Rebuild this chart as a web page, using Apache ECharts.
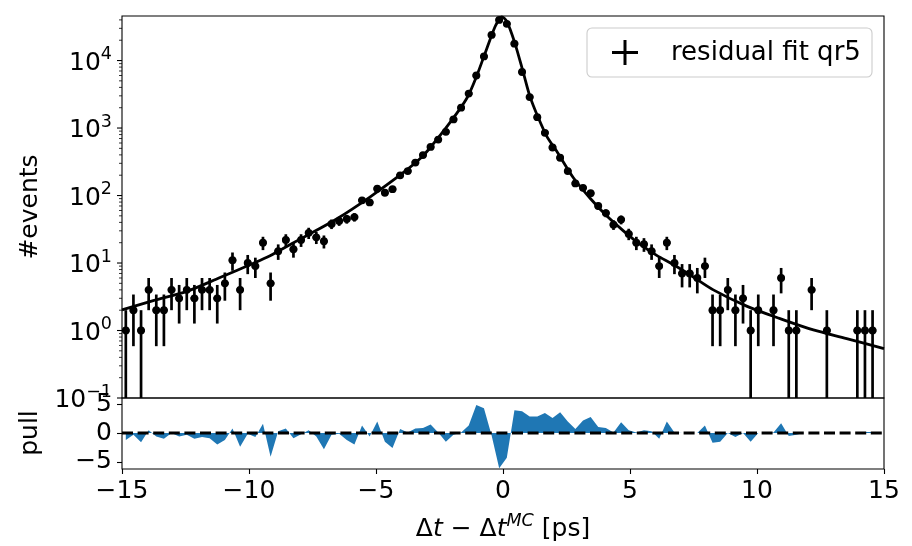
<!DOCTYPE html>
<html><head><meta charset="utf-8">
<script src="https://cdn.jsdelivr.net/npm/echarts@6/dist/echarts.min.js"></script>
<style>html,body{margin:0;padding:0;background:#fff}#c{width:912px;height:546px}</style>
</head><body><div id="c"></div>
<script>
// ---- data ----
const binHalfWidth = 0.15;
const binCenters = Array.from({length: 100}, (_, i) => +(-14.85 + 0.3 * i).toFixed(2));
const counts = [1, 2, 1, 4, 2, 2, 4, 3, 4, 3,
  4, 4, 3, 5, 11, 4, 10, 9, 20, 5,
  15, 22, 16, 22, 28, 24, 21, 38, 42, 45,
  48, 85, 79, 126, 110, 124, 199, 230, 308, 398,
  525, 675, 880, 1340, 2000, 3240, 6000, 11500, 24000, 40000,
  35000, 17800, 6760, 2880, 1450, 850, 515, 363, 230, 151,
  130, 108, 70, 55, 37, 44, 27, 20, 19, 15,
  9, 20, 10, 7, 7, 6, 9, 2, 2, 4,
  2, 3, 1, 2, null, 2, 6, 1, 1, null,
  4, null, 1, null, null, null, 1, 1, 1, null];
const pulls = [-1.2, -0.3, -1.6, 0.5, -0.6, -1.0, 0.0, -0.6, -0.3, -1.0,
  -0.7, -0.9, -2.0, -1.2, 0.8, -2.4, -0.1, -0.7, 1.6, -4.1,
  0.3, 0.8, -0.9, -0.2, 0.5, -0.6, -2.8, -0.3, -0.1, -1.2,
  -2.0, 1.3, -0.6, 2.0, -1.5, -2.6, 0.7, 0.1, 0.8, 0.9,
  1.5, 0.1, -1.5, -0.3, 0.1, 1.3, 4.9, 4.3, -0.4, -6.1,
  -4.3, 3.95, 3.8, 2.9, 2.9, 3.5, 2.6, 3.6, 2.0, 0.7,
  2.2, 2.8, 1.05, 0.9, 0.1, 1.9, 0.5, 0.1, 0.5, 0.3,
  -1.0, 2.0, 0.1, 0.0, 0.0, 0.0, 1.3, -1.7, -1.5, 0.0,
  -0.7, 0.0, -1.5, 0.0, 0.0, 0.1, 1.7, -0.5, -0.3, 0.0,
  0.0, 0.0, 0.0, 0.0, 0.0, 0.0, 0.0, 0.2, 0.2, 0.0];
const fitX = [-15, -13.77, -12.45, -11.14, -9.83, -9.17, -8.78, -7.86, -6.55, -5.24,
  -3.93, -3.27, -2.87, -2.09, -1.43, -1.04, -0.64, -0.31, -0.12, -0.05,
  0.15, 0.47, 0.80, 1.06, 1.39, 1.72, 2.11, 2.77, 3.43, 4.08,
  4.74, 5.39, 6.05, 6.70, 7.36, 8.28, 9.59, 10.91, 12.22, 13.53, 15];
const fitY = [2.02, 2.77, 3.8, 6.1, 9.9, 12.8, 15.5, 24, 45, 95,
  218, 350, 510, 1200, 2740, 5860, 15000, 32000, 42500, 44500,
  38000, 18000, 6600, 2950, 1420, 760, 455, 183, 91, 50,
  30, 19, 13, 9.5, 6.7, 4.0, 2.3, 1.5, 1.02, 0.76, 0.54];
const xTicks = [-15, -10, -5, 0, 5, 10, 15];
const yMajorTicks = [0.1, 1, 10, 100, 1000, 10000];
const pullTicks = [-5, 0, 5];
const legendLabel = 'residual fit qr5';
const yLabelTop = '#events';
const yLabelBottom = 'pull';

// ---- build ----
const FONT = 'DejaVu Sans';
const FS = 25;
const yMin = 0.1, yMax = 45700;
const yMinorTicks = [];
for (let e = -1; e <= 4; e++) for (let m = 2; m <= 9; m++) { const v = m * Math.pow(10, e); if (v < yMax) yMinorTicks.push(v); }
const tickData = yMajorTicks.map(v => [0, v, 5]).concat(yMinorTicks.map(v => [0, v, 3]));

const errData = [];
counts.forEach((n, i) => {
  if (n == null) return;
  const s = Math.sqrt(n);
  errData.push([binCenters[i], n, Math.max(n - s, yMin), n + s]);
});
const fitData = fitX.map((x, i) => [x, fitY[i]]);
const pullData = binCenters.map((x, i) => [x, pulls[i]]);
const minus = v => v < 0 ? '\u2212' + Math.abs(v) : '' + v;

const chart = echarts.init(document.getElementById('c'), null, {renderer: 'canvas'});
const option = {
  animation: false,
  backgroundColor: '#fff',
  textStyle: {fontFamily: FONT, color: '#000'},
  grid: [
    {left: 122, top: 16, width: 762, height: 382, show: true, borderColor: '#000', borderWidth: 1.1, backgroundColor: 'transparent', outerBoundsMode: 'none'},
    {left: 122, top: 398, width: 762, height: 71, show: true, borderColor: '#000', borderWidth: 1.1, backgroundColor: 'transparent', outerBoundsMode: 'none'}
  ],
  xAxis: [
    {gridIndex: 0, type: 'value', min: -15, max: 15, interval: 5, position: 'bottom',
      axisLine: {show: false, onZero: false}, axisTick: {show: false}, axisLabel: {show: false}, splitLine: {show: false}},
    {gridIndex: 1, type: 'value', min: -15, max: 15, interval: 5, position: 'bottom',
      axisLine: {show: false, onZero: false},
      axisTick: {show: true, inside: false, length: 5, lineStyle: {color: '#000', width: 1.1}},
      axisLabel: {fontSize: FS, fontFamily: FONT, color: '#000', margin: 10, formatter: minus},
      splitLine: {show: false}}
  ],
  yAxis: [
    {gridIndex: 0, type: 'log', logBase: 10, min: yMin, max: yMax, position: 'left',
      axisLine: {show: false, onZero: false}, axisTick: {show: false}, splitLine: {show: false}, minorTick: {show: false}, minorSplitLine: {show: false},
      axisLabel: {margin: 10, fontFamily: FONT, color: '#000',
        formatter: function (v) {
          const e = Math.log10(v), r = Math.round(e);
          if (Math.abs(e - r) > 1e-6) return '';
          return '{b|10}{s|' + minus(r) + '}';
        },
        rich: {
          b: {fontSize: FS, fontFamily: FONT, color: '#000', lineHeight: 30, verticalAlign: 'bottom'},
          s: {fontSize: 17.5, fontFamily: FONT, color: '#000', lineHeight: 13, verticalAlign: 'top'}
        }}},
    {gridIndex: 1, type: 'value', min: -6.25, max: 6.1, position: 'left',
      axisLine: {show: false, onZero: false},
      axisTick: {show: true, inside: false, length: 5, lineStyle: {color: '#000', width: 1.1}, customValues: pullTicks},
      axisLabel: {fontSize: FS, fontFamily: FONT, color: '#000', margin: 10, customValues: pullTicks, formatter: minus},
      splitLine: {show: false}}
  ],
  series: [
    {type: 'custom', name: 'yticks', xAxisIndex: 0, yAxisIndex: 0, clip: false, silent: true,
      data: tickData, encode: {x: 0, y: 1},
      renderItem: function (params, api) {
        const p = api.coord([0, api.value(1)]);
        const x0 = params.coordSys.x;
        const len = api.value(2);
        return {type: 'line', shape: {x1: x0 - len, y1: p[1], x2: x0, y2: p[1]},
          style: {stroke: '#000', lineWidth: len > 4 ? 1.1 : 0.8}};
      }},
    {type: 'custom', name: legendLabel, xAxisIndex: 0, yAxisIndex: 0, clip: true,
      data: errData, encode: {x: 0, y: [1, 2, 3]},
      renderItem: function (params, api) {
        const x = api.value(0), y = api.value(1), lo = api.value(2), hi = api.value(3);
        const c = api.coord([x, y]), a = api.coord([x, lo]), b = api.coord([x, hi]);
        const l = api.coord([x - binHalfWidth, y]), r = api.coord([x + binHalfWidth, y]);
        return {type: 'group', children: [
          {type: 'line', shape: {x1: a[0], y1: a[1], x2: b[0], y2: b[1]}, style: {stroke: '#000', lineWidth: 2.7}},
          {type: 'line', shape: {x1: l[0], y1: l[1], x2: r[0], y2: r[1]}, style: {stroke: '#000', lineWidth: 2.7}},
          {type: 'circle', shape: {cx: c[0], cy: c[1], r: 3.9}, style: {fill: '#000'}}
        ]};
      }},
    {type: 'line', name: 'fit', xAxisIndex: 0, yAxisIndex: 0, data: fitData, showSymbol: false, smooth: 0.3,
      lineStyle: {color: '#000', width: 2.8}, z: 3},
    {type: 'line', name: 'pull', xAxisIndex: 1, yAxisIndex: 1, data: pullData, showSymbol: false, smooth: false,
      lineStyle: {width: 0, color: '#1f77b4'}, areaStyle: {color: '#1f77b4', opacity: 1, origin: 0}},
    {type: 'line', name: 'zero', xAxisIndex: 1, yAxisIndex: 1, data: [[-15, 0], [15, 0]], showSymbol: false,
      lineStyle: {color: '#000', width: 3, type: [11, 4.6]}, z: 4}
  ],
  graphic: [
    {type: 'text', x: 30, y: 207, rotation: Math.PI / 2,
      style: {text: yLabelTop, fontSize: FS, fontFamily: FONT, fill: '#000', align: 'center', verticalAlign: 'middle'}},
    {type: 'text', x: 30, y: 433, rotation: Math.PI / 2,
      style: {text: yLabelBottom, fontSize: FS, fontFamily: FONT, fill: '#000', align: 'center', verticalAlign: 'middle'}},
    {type: 'text', x: 503, y: 527,
      style: {text: '{n|\u0394}{i|t}{n| \u2212 \u0394}{i|t}{s|MC}{n| [ps]}', align: 'center', verticalAlign: 'middle',
        rich: {
          n: {fontSize: FS, fontFamily: FONT, fill: '#000', lineHeight: 30, verticalAlign: 'bottom'},
          i: {fontSize: FS, fontFamily: FONT, fontStyle: 'italic', fill: '#000', lineHeight: 30, verticalAlign: 'bottom'},
          s: {fontSize: 17.5, fontFamily: FONT, fontStyle: 'italic', fill: '#000', lineHeight: 13, verticalAlign: 'top'}
        }}},
    {type: 'group', children: [
      {type: 'rect', shape: {x: 587, y: 28, width: 285, height: 49, r: 5},
        style: {fill: 'rgba(255,255,255,0.8)', stroke: '#cccccc', lineWidth: 1.1}},
      {type: 'line', shape: {x1: 612, y1: 52.5, x2: 638, y2: 52.5}, style: {stroke: '#000', lineWidth: 3}},
      {type: 'line', shape: {x1: 625, y1: 40, x2: 625, y2: 65}, style: {stroke: '#000', lineWidth: 3}},
      {type: 'text', x: 671, y: 53, style: {text: legendLabel, fontSize: 26, fontFamily: FONT, fill: '#000', align: 'left', verticalAlign: 'middle'}}
    ]}
  ]
};
chart.setOption(option);
</script>
</body></html>
